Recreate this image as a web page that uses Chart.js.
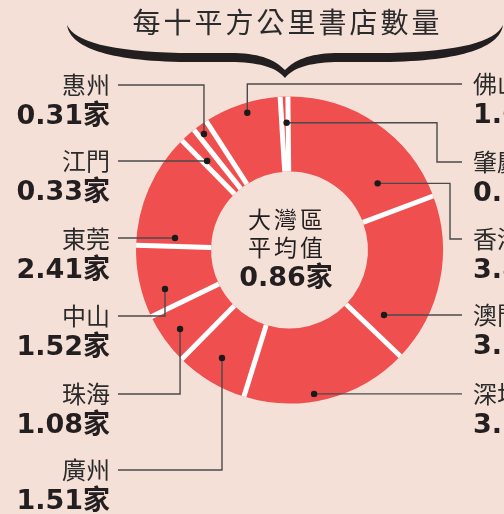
<!DOCTYPE html>
<html><head><meta charset="utf-8">
<script src="https://cdn.jsdelivr.net/npm/chart.js@4.4.0/dist/chart.umd.min.js"></script>
<style>html,body{margin:0;padding:0;background:#f5e0d7;overflow:hidden}canvas{display:block}</style>
</head><body>
<canvas id="c" width="504" height="514"></canvas>
<script>
// ---- data ----
const title = '每十平方公里書店數量';
const categories = ['肇慶','香港','澳門','深圳','廣州','珠海','中山','東莞','江門','惠州','佛山'];
const values = [0.16, 3.86, 3.55, 3.50, 1.51, 1.08, 1.52, 2.41, 0.33, 0.31, 1.62];
const unit = '家';
const centerLines = ['大灣區', '平均值'];
const centerValue = 0.86;

// ---- annotation layout (label positions, leader-line anchors in polar coords of the doughnut) ----
const annot = {
  '惠州': {side:'L', y:85,  ang:323.6, r:0.939, route:'hv'},
  '江門': {side:'L', y:161, ang:317.2, r:0.790, route:'h'},
  '東莞': {side:'L', y:239, ang:276.0, r:0.750, route:'h'},
  '中山': {side:'L', y:316, ang:252.6, r:0.850, route:'hv'},
  '珠海': {side:'L', y:394, ang:234.2, r:0.879, route:'hv'},
  '廣州': {side:'L', y:470, ang:212.0, r:0.830, route:'hv'},
  '佛山': {side:'R', y:84,  ang:342.9, r:0.935, route:'hv'},
  '肇慶': {side:'R', y:162, ang:358.7, r:0.829, route:'hvh', ex:437},
  '香港': {side:'R', y:239, ang:52.9,  r:0.720, route:'hvh', ex:450},
  '澳門': {side:'R', y:315, ang:124.5, r:0.747, route:'h'},
  '深圳': {side:'R', y:394, ang:170.3, r:0.951, route:'h'}
};

const BG = '#f5e0d7', RED = '#ef4f4f', INK = '#231f20', LINE = '#4a4a4a';
const CJK = '"Noto Sans CJK TC", "Noto Sans CJK SC", sans-serif';
const NUM = '"DejaVu Sans", "Noto Sans CJK TC", sans-serif';

const gapPlugin = {
  id: 'gaps',
  afterDatasetsDraw(chart) {
    const ctx = chart.ctx;
    const arcs = chart.getDatasetMeta(0).data;
    ctx.save();
    ctx.strokeStyle = '#ffffff';
    ctx.lineWidth = 5;
    ctx.lineCap = 'butt';
    arcs.forEach(a => {
      const p = a.getProps(['x','y','startAngle','innerRadius','outerRadius'], true);
      const c = Math.cos(p.startAngle), s = Math.sin(p.startAngle);
      ctx.beginPath();
      ctx.moveTo(p.x + c * p.innerRadius, p.y + s * p.innerRadius);
      ctx.lineTo(p.x + c * p.outerRadius, p.y + s * p.outerRadius);
      ctx.stroke();
    });
    ctx.restore();
  }
};

function braceHalf(ctx) {
  ctx.beginPath();
  ctx.moveTo(285, 70);
  ctx.bezierCurveTo(275, 60, 262, 54, 235, 53);
  ctx.lineTo(180, 53);
  ctx.bezierCurveTo(110, 51, 75, 42, 67, 25);
  ctx.bezierCurveTo(70, 45, 100, 60, 180, 62);
  ctx.lineTo(235, 62);
  ctx.bezierCurveTo(262, 63, 277, 68, 285, 78);
  ctx.closePath();
  ctx.fill();
}

const textPlugin = {
  id: 'texts',
  afterDraw(chart) {
    const ctx = chart.ctx;
    const a0 = chart.getDatasetMeta(0).data[0];
    const cx = a0.x, cy = a0.y, R = a0.outerRadius;
    ctx.save();
    // title
    ctx.fillStyle = '#2b2b2b';
    ctx.font = '28px ' + CJK;
    ctx.textAlign = 'center';
    ctx.textBaseline = 'middle';
    ctx.letterSpacing = '3px';
    ctx.fillText(title, 287.5, 22);
    ctx.letterSpacing = '0px';
    // brace
    ctx.fillStyle = INK;
    braceHalf(ctx);
    ctx.save(); ctx.translate(570, 0); ctx.scale(-1, 1); braceHalf(ctx); ctx.restore();

    // center text
    ctx.fillStyle = INK;
    ctx.textAlign = 'center';
    ctx.font = '23px ' + CJK;
    ctx.letterSpacing = '3px';
    ctx.fillText(centerLines[0], 287, 219);
    ctx.fillText(centerLines[1], 287, 247.5);
    ctx.letterSpacing = '0px';
    ctx.font = 'bold 27px ' + NUM;
    ctx.fillText(centerValue.toFixed(2) + unit, 286, 279);

    // leader lines and labels
    categories.forEach((name, i) => {
      const L = annot[name];
      const th = L.ang * Math.PI / 180;
      const dx = cx + L.r * R * Math.sin(th);
      const dy = cy - L.r * R * Math.cos(th);
      ctx.strokeStyle = LINE;
      ctx.lineWidth = 1.4;
      ctx.beginPath();
      if (L.side === 'L') {
        if (L.route === 'hv') { ctx.moveTo(118, L.y); ctx.lineTo(dx, L.y); ctx.lineTo(dx, dy); }
        else { ctx.moveTo(118, dy); ctx.lineTo(dx, dy); }
      } else {
        ctx.moveTo(dx, dy);
        if (L.route === 'hv') { ctx.lineTo(dx, L.y); ctx.lineTo(462, L.y); }
        else if (L.route === 'hvh') { ctx.lineTo(L.ex, dy); ctx.lineTo(L.ex, L.y); ctx.lineTo(462, L.y); }
        else { ctx.lineTo(462, dy); }
      }
      ctx.stroke();
      ctx.fillStyle = '#1a1a1a';
      ctx.beginPath(); ctx.arc(dx, dy, 3.2, 0, Math.PI * 2); ctx.fill();

      const tx = L.side === 'L' ? 110 : 473;
      ctx.textAlign = L.side === 'L' ? 'right' : 'left';
      ctx.textBaseline = 'middle';
      ctx.fillStyle = '#2b2b2b';
      ctx.font = '24px ' + CJK;
      ctx.fillText(name, tx, L.y);
      ctx.fillStyle = INK;
      ctx.font = 'bold 27px ' + NUM;
      ctx.fillText(values[i].toFixed(2) + unit, tx, L.y + 32);
    });
    ctx.restore();
  }
};

new Chart(document.getElementById('c'), {
  type: 'doughnut',
  data: {
    labels: categories,
    datasets: [{ data: values, backgroundColor: RED, borderWidth: 0, hoverOffset: 0 }]
  },
  options: {
    responsive: false,
    animation: false,
    devicePixelRatio: 1,
    rotation: -3.5,
    cutout: '51.1%',
    layout: { padding: { left: 136, right: 61, top: 96.5, bottom: 110.5 } },
    plugins: { legend: { display: false }, tooltip: { enabled: false } },
    events: []
  },
  plugins: [gapPlugin, textPlugin]
});
</script>
</body></html>
